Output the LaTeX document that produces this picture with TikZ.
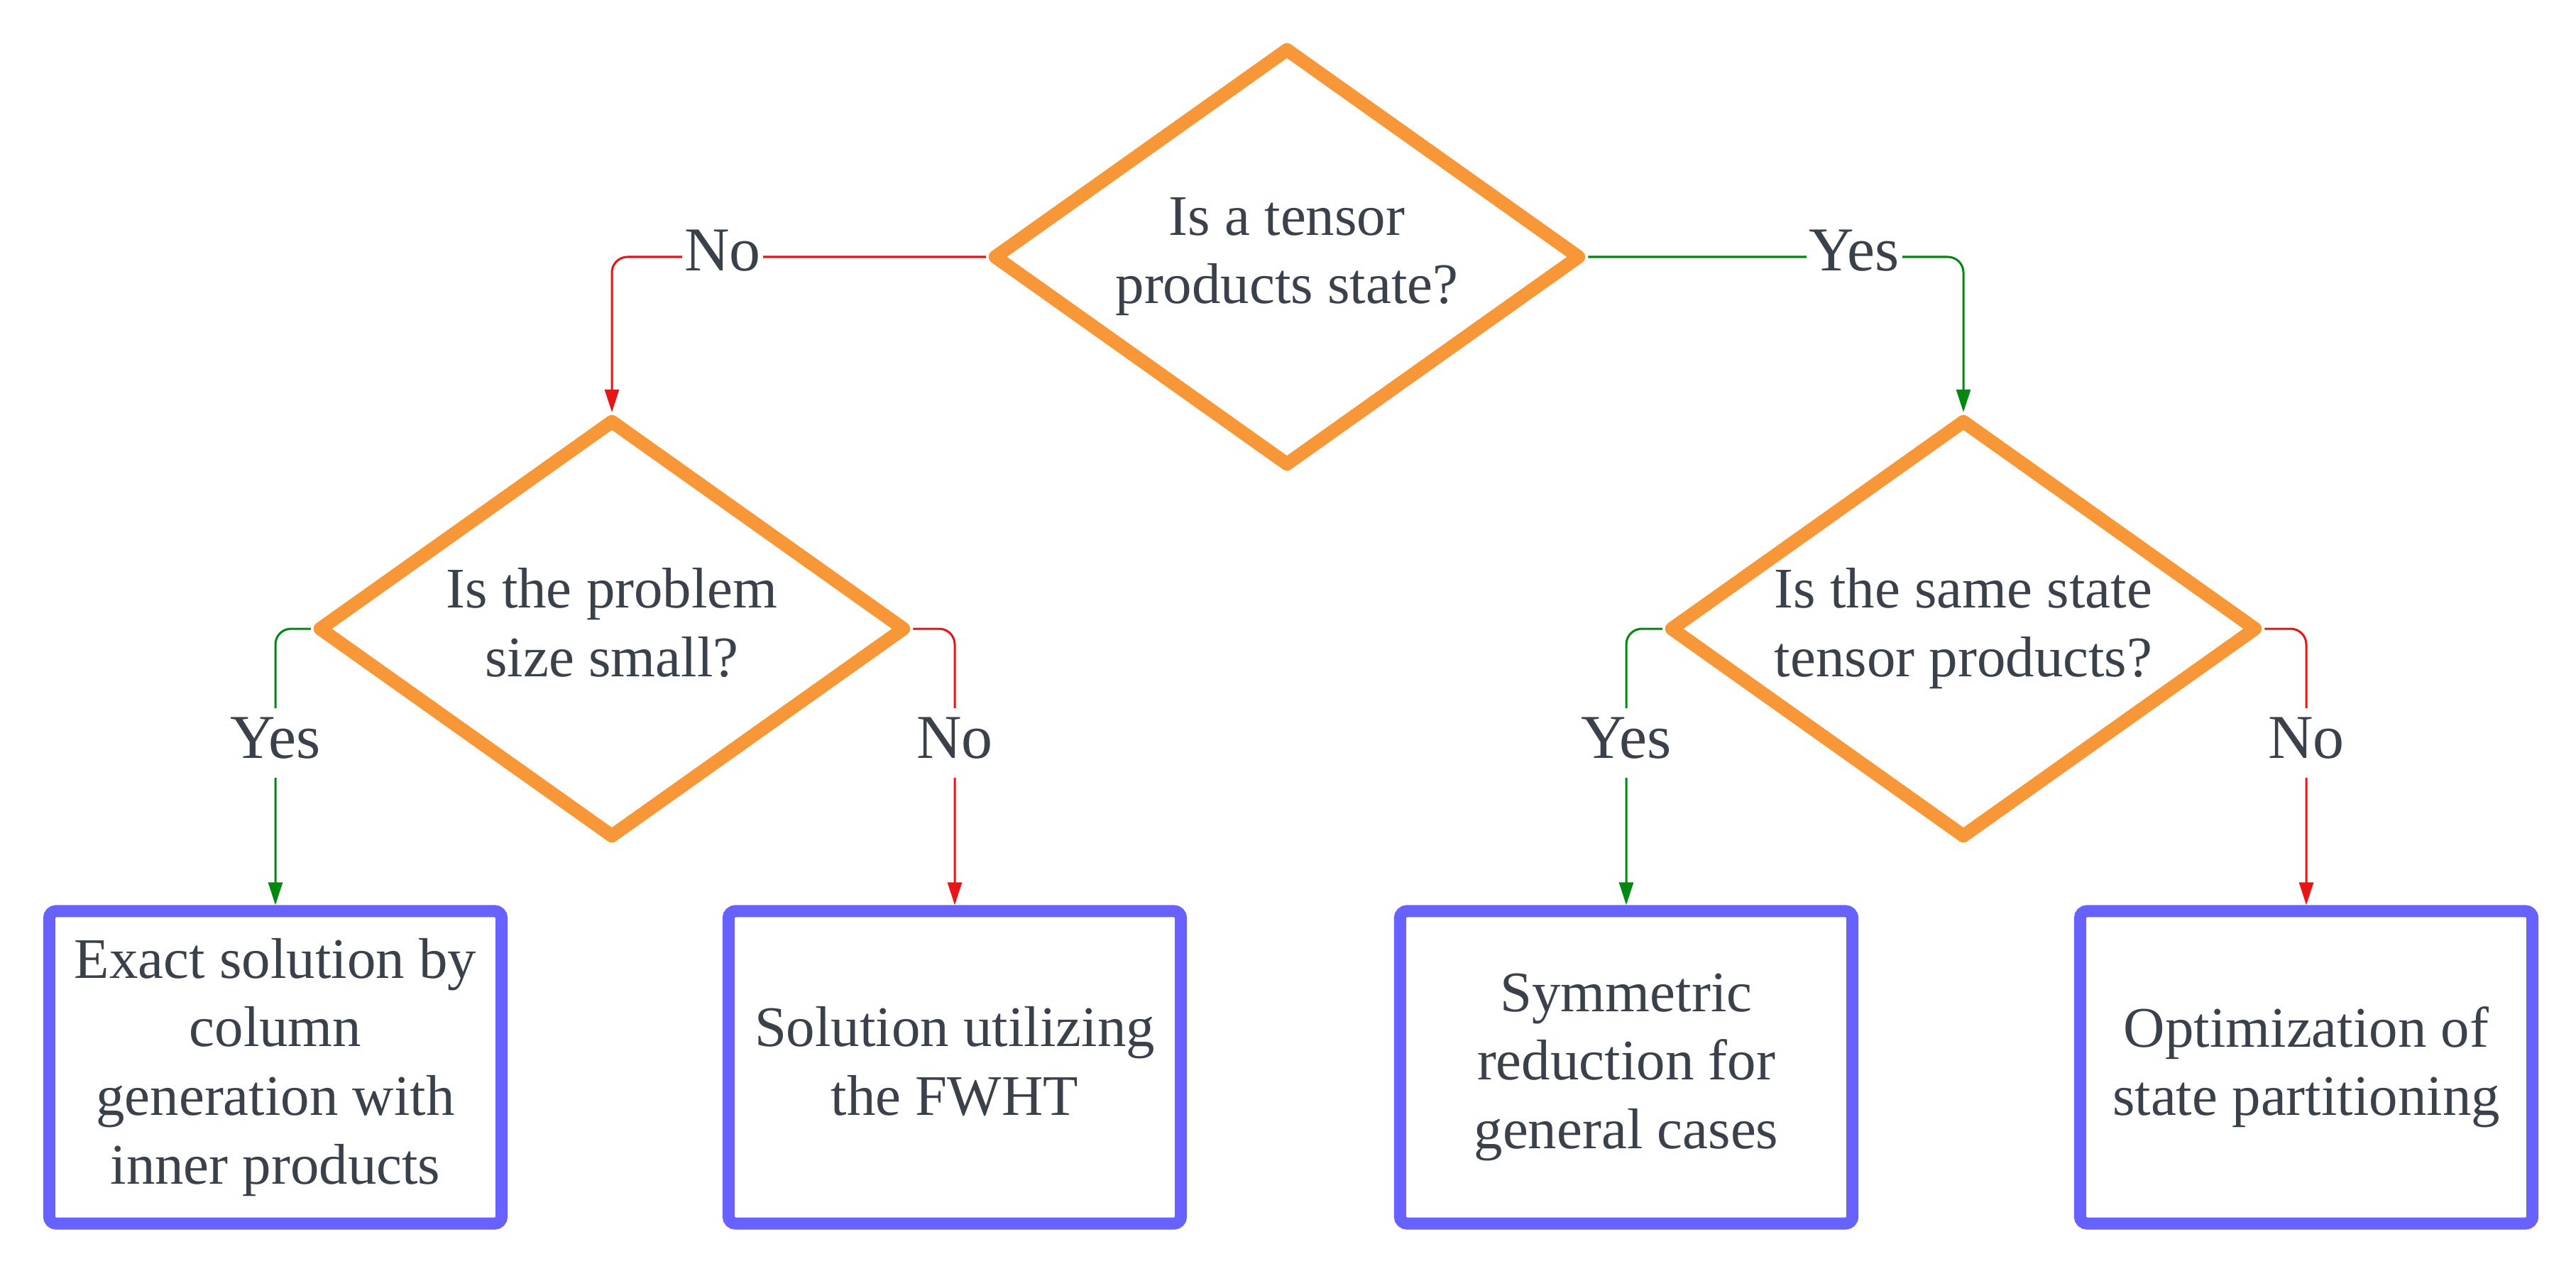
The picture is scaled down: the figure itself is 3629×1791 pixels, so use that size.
\documentclass[tikz,border=0pt]{standalone}
\usepackage{fontspec}
\setmainfont{Liberation Serif}
\usetikzlibrary{shapes.geometric,arrows.meta}
\definecolor{txt}{RGB}{58,65,74}
\definecolor{dorange}{RGB}{248,151,56}
\definecolor{bblue}{RGB}{102,97,255}
\definecolor{cgreen}{RGB}{0,136,16}
\definecolor{cred}{RGB}{232,20,22}
\newcommand{\dstrut}{\rule[-0.22em]{0pt}{0.22em}}
\tikzset{
  decision/.style={diamond, draw=dorange, line width=0.19cm, line join=round,
    aspect=1.42, minimum width=8.29cm, minimum height=5.91cm, inner sep=0pt,
    align=center, text=txt, font=\fontsize{23}{27.5}\selectfont},
  outcome/.style={rectangle, draw=bblue, line width=0.17cm, rounded corners=0.1cm,
    minimum width=6.37cm, minimum height=4.40cm, inner sep=0pt,
    align=center, text=txt, font=\fontsize{23}{27.5}\selectfont},
  conn/.style={line width=0.03cm, rounded corners=0.22cm,
    -{Triangle[length=0.32cm,width=0.2cm]}},
  yesline/.style={conn, draw=cgreen},
  noline/.style={conn, draw=cred},
  lbl/.style={anchor=base, fill=white, text=txt, font=\fontsize{25}{30}\selectfont,
    text height=18pt, text depth=6pt, inner xsep=1pt, inner ysep=2pt}
}
\begin{document}
\begin{tikzpicture}[x=0.01cm, y=-0.01cm]
\useasboundingbox (0,0) rectangle (3629,1791);
\fill[white] (0,0) rectangle (3629,1791);

% decisions
\node[decision] (d1) at (1813,362) {Is a tensor\\products state?\dstrut};
\node[decision] (d2) at (862,886) {Is the problem\\size small?\dstrut};
\node[decision] (d3) at (2766,886) {Is the same state\\tensor products?\dstrut};

% outcomes
\node[outcome] (b1) at (388,1504) {Exact solution by\\column\\generation with\\inner products\dstrut};
\node[outcome] (b2) at (1345,1504) {Solution utilizing\\the FWHT\dstrut};
\node[outcome] (b3) at (2291,1504) {Symmetric\\reduction for\\general cases\dstrut};
\node[outcome] (b4) at (3249,1504) {Optimization of\\state partitioning\dstrut};

% connectors
\draw[noline] (d1.west) -| (d2.north);
\draw[yesline] (d1.east) -| (d3.north);
\draw[yesline] (d2.west) -| (b1.north);
\draw[noline] (d2.east) -| (b2.north);
\draw[yesline] (d3.west) -| (b3.north);
\draw[noline] (d3.east) -| (b4.north);

% labels
\node[lbl] (l1) at (1018,382) {No};
\node[lbl] (l2) at (2612,382) {Yes};
\node[lbl] (l3) at (388,1068) {Yes};
\node[lbl] (l4) at (1345,1068) {No};
\node[lbl] (l5) at (2291,1068) {Yes};
\node[lbl] (l6) at (3249,1068) {No};
\end{tikzpicture}
\end{document}
